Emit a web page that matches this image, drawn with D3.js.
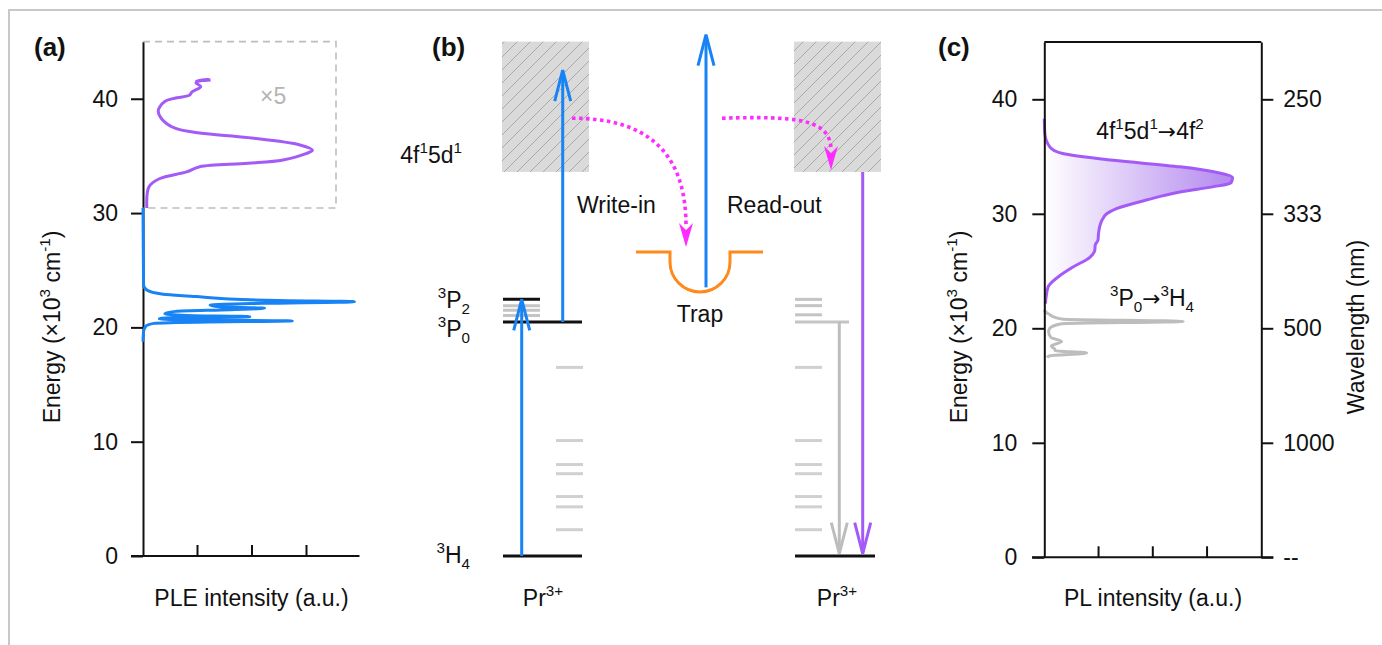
<!DOCTYPE html>
<html>
<head>
<meta charset="utf-8">
<script src="https://cdn.jsdelivr.net/npm/d3@7"></script>
<style>
  body { margin: 0; background: #fff; }
  svg { display: block; font-family: "Liberation Sans", Arial, sans-serif; }
</style>
</head>
<body>
<svg id="fig" width="1382" height="645"></svg>
<script>
// energies are in 10^3 cm^-1, intensities in arbitrary units
var energyTicks = [0, 10, 20, 30, 40];
var wavelengthTicks = ['--', '1000', '500', '333', '250'];
var intensityTicks = [1, 2, 3];

// (a) PLE, blue part
var pleBlueE = [18.75, 19.6, 20.1, 20.35, 20.48, 20.56, 20.65, 20.75, 20.85, 20.94, 21.05, 21.2, 21.4, 21.55, 21.67, 21.8, 21.95, 22.1, 22.25, 22.35, 22.5, 22.7, 22.9, 23.27, 23.7, 30.44];
var pleBlueI = [0, 0.01, 0.05, 0.2, 1.2, 2.74, 1.0, 0.3, 0.5, 1.96, 0.8, 0.4, 0.6, 1.6, 2.23, 1.4, 1.23, 2.2, 3.88, 2.5, 1.5, 0.97, 0.37, 0.07, 0.01, 0];
// (a) PLE, purple part (shown x5)
var plePurpleE = [30.44, 32.3, 33.0, 33.6, 34.05, 34.35, 34.65, 35.2, 35.5, 35.96, 36.6, 37.0, 37.4, 38.15, 38.9, 39.3, 39.76, 40.05, 40.3, 40.6, 41.06, 41.4, 41.7, 41.55, 41.65];
var plePurpleI = [0.07, 0.11, 0.3, 0.8, 1.04, 1.93, 2.57, 2.99, 3.11, 2.88, 1.93, 1.04, 0.6, 0.36, 0.28, 0.31, 0.4, 0.58, 0.85, 0.9, 1.06, 0.97, 1.2, 0.98, 1.24];

// (c) PL, 4f5d -> 4f2
var plPurpleE = [22.15, 23.6, 24.5, 25.35, 26.2, 26.8, 27.3, 27.7, 28.3, 29.3, 30.0, 30.45, 31.2, 31.9, 32.35, 32.7, 33.17, 33.57, 34.1, 34.67, 35.26, 35.85, 37.0, 38.3];
var plPurpleI = [0.02, 0.07, 0.26, 0.53, 0.84, 0.93, 0.94, 0.99, 1.0, 1.05, 1.15, 1.33, 1.88, 2.5, 3.1, 3.44, 3.47, 3.23, 2.5, 1.27, 0.34, 0.1, 0.01, 0];
// (c) PL, 3P0 -> 3H4
var plGrayE = [17.45, 17.6, 17.85, 18.05, 18.2, 18.45, 18.85, 19.2, 19.7, 20.0, 20.4, 20.6, 20.8, 20.95, 21.2, 21.4, 21.6];
var plGrayI = [0.05, 0.1, 0.78, 0.2, 0.19, 0.13, 0.32, 0.12, 0.08, 0.1, 0.32, 2.56, 0.35, 0.2, 0.1, 0.03, 0];

// (b) Pr3+ levels
var groundE = 0, p0E = 20.47, p2E = 22.45;
var upperGrayE = [21.9, 21.5, 21.05];
var lowGrayE = [16.5, 10.1, 8.0, 7.2, 5.2, 4.3, 2.3];
var bandBottomE = 33.6, bandTopE = 45;
var trapE = 26.6, writeTopE = 42.5, readTopE = 45.6, trapBottomE = 23.5, migrateE = 38.3;

var svg = d3.select('#fig');
var defs = svg.append('defs');

var blue = '#1883f5', purple = '#a35af6', grey = '#c4c4c4', magenta = '#ff2cff', orange = '#ff8a1c';
var fs = 23;

var hatch = defs.append('pattern')
    .attr('id', 'hatch')
    .attr('patternUnits', 'userSpaceOnUse')
    .attr('width', 13).attr('height', 13);
hatch.append('rect').attr('width', 13).attr('height', 13).attr('fill', '#dadada');
hatch.append('path')
    .attr('d', 'M-1,1 L1,-1 M0,13 L13,0 M12,14 L14,12')
    .attr('stroke', '#a9a9a9').attr('stroke-width', 1);

var grad = defs.append('linearGradient')
    .attr('id', 'plfill')
    .attr('gradientUnits', 'userSpaceOnUse')
    .attr('x1', 1044).attr('x2', 1236).attr('y1', 0).attr('y2', 0);
grad.append('stop').attr('offset', 0).attr('stop-color', '#ffffff');
grad.append('stop').attr('offset', 1).attr('stop-color', '#b286ee');

// outer frame
svg.append('rect')
    .attr('x', 9).attr('y', 10).attr('width', 1420).attr('height', 700)
    .attr('fill', 'none').attr('stroke', '#c8c8c8').attr('stroke-width', 2);

function rich(text, parts, size) {
  var shift = 0;
  parts.forEach(function (p) {
    var target = p[1] === 'sup' ? -size * 0.42 : p[1] === 'sub' ? size * 0.25 : 0;
    var ts = text.append('tspan')
        .attr('dy', target - shift)
        .attr('font-size', (p[1] === 'sup' || p[1] === 'sub') ? size * 0.66 : size)
        .text(p[0]);
    if (p[1] === 'arrow') ts.attr('font-family', '"DejaVu Sans", sans-serif').attr('font-size', size * 0.95);
    shift = target;
  });
  return text;
}

function label(x, y, parts, anchor, color) {
  var t = svg.append('text')
      .attr('x', x).attr('y', y)
      .attr('text-anchor', anchor || 'start')
      .attr('fill', color || '#111')
      .attr('font-size', fs);
  return rich(t, parts, fs);
}

function zip(es, is) {
  return es.map(function (e, i) { return { e: es[i], i: is[i] }; });
}

function styleAxis(g) {
  g.attr('font-size', fs).attr('font-family', null);
  g.selectAll('path, line').attr('stroke', '#111').attr('stroke-width', 2);
  g.selectAll('text').attr('fill', '#111');
}

var energyTitle = [['Energy (\u00d710', null], ['3', 'sup'], [' cm', null], ['-1', 'sup'], [')', null]];

// ---------------- (a) ----------------
var yA = d3.scaleLinear().domain([0, 45]).range([556, 41.6]);
var xA = d3.scaleLinear().domain([0, 4]).range([143, 361]);

svg.append('g')
    .attr('transform', 'translate(143,0)')
    .call(d3.axisLeft(yA).tickValues(energyTicks).tickSize(12).tickSizeOuter(0).tickPadding(13))
    .call(styleAxis);

var xAxisA = svg.append('g').attr('transform', 'translate(0,556)');
xAxisA.append('line').attr('x1', 131).attr('x2', 359.5);
xAxisA.selectAll('.t').data(intensityTicks).enter().append('line')
    .attr('x1', xA).attr('x2', xA).attr('y1', 0).attr('y2', -11);
xAxisA.selectAll('line').attr('stroke', '#111').attr('stroke-width', 2);

svg.append('path')
    .attr('d', 'M143,' + yA(45) + 'H336V' + yA(30.44) + 'H143')
    .attr('fill', 'none').attr('stroke', '#bdbdbd').attr('stroke-width', 1.6)
    .attr('stroke-dasharray', '7,5');

label(260, 104, [['\u00d75', null]], 'start', '#b5b5b5');

var lineA = d3.line().x(function (d) { return xA(d.i); }).y(function (d) { return yA(d.e); });

svg.append('path')
    .datum(zip(pleBlueE, pleBlueI))
    .attr('d', lineA.curve(d3.curveMonotoneY))
    .attr('fill', 'none').attr('stroke', blue).attr('stroke-width', 3);

svg.append('path')
    .datum(zip(plePurpleE, plePurpleI))
    .attr('d', lineA.curve(d3.curveCatmullRom.alpha(0.5)))
    .attr('fill', 'none').attr('stroke', purple).attr('stroke-width', 3)
    .attr('stroke-linejoin', 'round');

label(251.5, 606, [['PLE intensity (a.u.)', null]], 'middle');

svg.append('text')
    .attr('transform', 'translate(60,327) rotate(-90)')
    .attr('text-anchor', 'middle').attr('font-size', fs).attr('fill', '#111')
    .call(function (t) { rich(t, energyTitle, fs); });

svg.append('text').attr('x', 34).attr('y', 56)
    .attr('font-size', 26).attr('font-weight', 'bold').attr('fill', '#111').text('(a)');

// ---------------- (b) ----------------
var yB = yA;

svg.append('text').attr('x', 432).attr('y', 56)
    .attr('font-size', 26).attr('font-weight', 'bold').attr('fill', '#111').text('(b)');

function level(x1, x2, e, color) {
  svg.append('line')
      .attr('x1', x1).attr('x2', x2).attr('y1', yB(e)).attr('y2', yB(e))
      .attr('stroke', color).attr('stroke-width', 3);
}

function arrow(x, e1, e2, color) {
  var y1 = yB(e1), y2 = yB(e2), dir = y2 < y1 ? 1 : -1;
  var g = svg.append('g').attr('stroke', color).attr('stroke-width', 3).attr('fill', 'none');
  g.append('line').attr('x1', x).attr('x2', x).attr('y1', y1).attr('y2', y2 + dir);
  g.append('path')
      .attr('d', 'M' + (x - 8) + ',' + (y2 + dir * 31) + 'L' + x + ',' + y2 + 'L' + (x + 8) + ',' + (y2 + dir * 31));
}

function band(x1, x2) {
  svg.append('rect')
      .attr('x', x1).attr('width', x2 - x1)
      .attr('y', yB(bandTopE)).attr('height', yB(bandBottomE) - yB(bandTopE))
      .attr('fill', 'url(#hatch)');
}

// left Pr3+
band(502, 589);
upperGrayE.forEach(function (e) { level(503, 540, e, grey); });
lowGrayE.forEach(function (e) { level(556, 583, e, '#d0d0d0'); });
level(503, 540, p2E, '#111');
level(503, 582, p0E, '#111');
level(503, 582, groundE, '#111');
arrow(521.7, groundE, p2E, blue);
arrow(562.7, p0E, writeTopE, blue);

label(462, 163, [['4f', null], ['1', 'sup'], ['5d', null], ['1', 'sup']], 'end');
label(470, 308, [['3', 'sup'], ['P', null], ['2', 'sub']], 'end');
label(470, 337, [['3', 'sup'], ['P', null], ['0', 'sub']], 'end');
label(470, 563, [['3', 'sup'], ['H', null], ['4', 'sub']], 'end');
label(543, 606, [['Pr', null], ['3+', 'sup']], 'middle');
label(577, 213, [['Write-in', null]]);

// trap
var ty = yB(trapE);
svg.append('path')
    .attr('d', 'M636,' + ty + 'H670V' + (ty + 10) + 'A30,30 0 0 0 730,' + (ty + 10) + 'V' + ty + 'H763')
    .attr('fill', 'none').attr('stroke', orange).attr('stroke-width', 3);
arrow(706, trapBottomE, readTopE, blue);
label(700, 322, [['Trap', null]], 'middle');
label(727, 213, [['Read-out', null]]);

// right Pr3+
band(794, 881);
[p2E].concat(upperGrayE.slice(0, 1), [21.1]).forEach(function (e) { level(795, 822, e, grey); });
lowGrayE.forEach(function (e) { level(795, 822, e, '#d0d0d0'); });
level(795, 849, p0E, grey);
level(795, 875, groundE, '#111');
arrow(839.3, p0E, groundE + 0.2, '#bdbdbd');
arrow(862.7, bandBottomE, groundE + 0.2, purple);
label(837, 606, [['Pr', null], ['3+', 'sup']], 'middle');

// electron migration (dotted magenta)
function dotted(d, tipX, tipY) {
  svg.append('path').attr('d', d)
      .attr('fill', 'none').attr('stroke', magenta).attr('stroke-width', 3.6)
      .attr('stroke-dasharray', '3.5,3.5');
  svg.append('path')
      .attr('d', 'M' + tipX + ',' + tipY + 'L' + (tipX - 7) + ',' + (tipY - 24) +
                 'L' + tipX + ',' + (tipY - 17) + 'L' + (tipX + 7) + ',' + (tipY - 24) + 'Z')
      .attr('fill', magenta);
}
var my = yB(migrateE);
dotted('M572,' + my + 'C645,' + my + ' 686,150 686,226', 686, 247);
dotted('M722,' + my + 'C795,' + (my - 2) + ' 831,' + my + ' 831,150', 831, 170);

// ---------------- (c) ----------------
var yC = d3.scaleLinear().domain([0, 45]).range([557.3, 42.05]);
var xC = d3.scaleLinear().domain([0, 4]).range([1044.3, 1261.3]);

svg.append('text').attr('x', 938).attr('y', 56)
    .attr('font-size', 26).attr('font-weight', 'bold').attr('fill', '#111').text('(c)');

var areaC = d3.area()
    .x0(xC(0)).x1(function (d) { return xC(d.i); })
    .y(function (d) { return yC(d.e); })
    .curve(d3.curveMonotoneY);
var lineC = d3.line()
    .x(function (d) { return xC(d.i); }).y(function (d) { return yC(d.e); })
    .curve(d3.curveMonotoneY);

svg.append('path').datum(zip(plPurpleE, plPurpleI))
    .attr('d', areaC).attr('fill', 'url(#plfill)');
svg.append('path').datum(zip(plGrayE, plGrayI))
    .attr('d', lineC).attr('fill', 'none').attr('stroke', '#bdbdbd').attr('stroke-width', 3);
svg.append('path').datum(zip(plPurpleE, plPurpleI))
    .attr('d', lineC).attr('fill', 'none').attr('stroke', purple).attr('stroke-width', 3);

svg.append('g')
    .attr('transform', 'translate(1044.3,0)')
    .call(d3.axisLeft(yC).tickValues(energyTicks).tickSize(12).tickSizeOuter(0).tickPadding(15))
    .call(styleAxis);
svg.append('g')
    .attr('transform', 'translate(1261.3,0)')
    .call(d3.axisRight(yC).tickValues(energyTicks).tickSize(12).tickSizeOuter(0).tickPadding(10)
        .tickFormat(function (d, i) { return wavelengthTicks[i]; }))
    .call(styleAxis);

var frameC = svg.append('g');
frameC.append('line').attr('x1', 1044.3).attr('x2', 1261.3).attr('y1', yC(45)).attr('y2', yC(45));
frameC.append('line').attr('x1', 1032).attr('x2', 1273.3).attr('y1', yC(0)).attr('y2', yC(0));
frameC.selectAll('.t').data(intensityTicks).enter().append('line')
    .attr('x1', xC).attr('x2', xC).attr('y1', yC(0)).attr('y2', yC(0) - 11);
frameC.selectAll('line').attr('stroke', '#111').attr('stroke-width', 2);

label(1150, 139, [['4f', null], ['1', 'sup'], ['5d', null], ['1', 'sup'], ['\u2192', 'arrow'], ['4f', null], ['2', 'sup']], 'middle');
label(1152, 306, [['3', 'sup'], ['P', null], ['0', 'sub'], ['\u2192', 'arrow'], ['3', 'sup'], ['H', null], ['4', 'sub']], 'middle');
label(1153, 606, [['PL intensity (a.u.)', null]], 'middle');

svg.append('text')
    .attr('transform', 'translate(967,327) rotate(-90)')
    .attr('text-anchor', 'middle').attr('font-size', fs).attr('fill', '#111')
    .call(function (t) { rich(t, energyTitle, fs); });
svg.append('text')
    .attr('transform', 'translate(1364,327) rotate(-90)')
    .attr('text-anchor', 'middle').attr('font-size', fs).attr('fill', '#111')
    .text('Wavelength (nm)');
</script>
</body>
</html>
